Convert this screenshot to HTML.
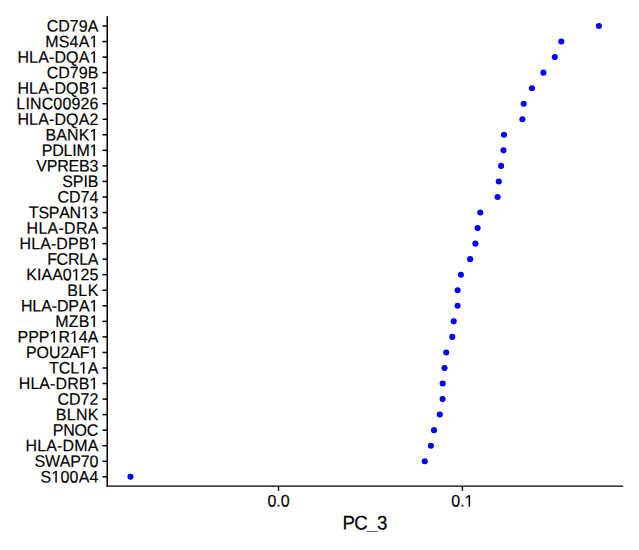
<!DOCTYPE html>
<html><head><meta charset="utf-8"><style>
html,body{margin:0;padding:0;background:#fff;width:639px;height:550px;overflow:hidden}
svg{display:block}
text{font-family:"Liberation Sans",sans-serif;font-size:16px;fill:#000;font-kerning:none;stroke:#000;stroke-width:0.15}
.tr{stroke:transparent;fill:transparent}
line{stroke:#000;stroke-width:1.5}
</style></head><body>
<svg width="639" height="550" viewBox="0 0 639 550">
<rect width="639" height="550" fill="#fff"/>
<line x1="107.25" y1="16.9" x2="107.25" y2="486.1" stroke-linecap="square"/>
<line x1="107.25" y1="486.1" x2="622.5" y2="486.1" stroke-linecap="square" style="stroke-width:1.35"/>
<g transform="translate(98.40,31.65) matrix(1,0.001,0,1.041,0,0)"><text id="t0" x="0" y="0" text-anchor="end" textLength="51.78" lengthAdjust="spacing">CD79A</text></g>
<line x1="102.5" y1="26.00" x2="107.25" y2="26.00"/>
<circle cx="598.9" cy="26.00" r="3.05" fill="#0000ff"/>
<g transform="translate(98.40,47.19) matrix(1,0.001,0,1.041,0,0)"><text id="t1" x="0" y="0" text-anchor="end" textLength="53.12" lengthAdjust="spacing">MS4A<tspan class="tr">1</tspan></text><path d="M-4.886 0.000 L-4.886 -9.664 L-7.370 -7.891 L-7.370 -9.219 L-4.769 -11.008 L-3.472 -11.008 L-3.472 0.000Z" fill="#000" stroke="#000" stroke-width="0.15" stroke-linejoin="miter"/></g>
<line x1="102.5" y1="41.54" x2="107.25" y2="41.54"/>
<circle cx="561.3" cy="41.54" r="3.05" fill="#0000ff"/>
<g transform="translate(98.40,62.74) matrix(1,0.001,0,1.041,0,0)"><text id="t2" x="0" y="0" text-anchor="end" textLength="80.97" lengthAdjust="spacing">HLA-DQA<tspan class="tr">1</tspan></text><path d="M-4.886 0.000 L-4.886 -9.664 L-7.370 -7.891 L-7.370 -9.219 L-4.769 -11.008 L-3.472 -11.008 L-3.472 0.000Z" fill="#000" stroke="#000" stroke-width="0.15" stroke-linejoin="miter"/></g>
<line x1="102.5" y1="57.09" x2="107.25" y2="57.09"/>
<circle cx="554.8" cy="57.09" r="3.05" fill="#0000ff"/>
<g transform="translate(98.40,78.28) matrix(1,0.001,0,1.041,0,0)"><text id="t3" x="0" y="0" text-anchor="end" textLength="51.78" lengthAdjust="spacing">CD79B</text></g>
<line x1="102.5" y1="72.63" x2="107.25" y2="72.63"/>
<circle cx="543.4" cy="72.63" r="3.05" fill="#0000ff"/>
<g transform="translate(98.40,93.83) matrix(1,0.001,0,1.041,0,0)"><text id="t4" x="0" y="0" text-anchor="end" textLength="80.97" lengthAdjust="spacing">HLA-DQB<tspan class="tr">1</tspan></text><path d="M-4.886 0.000 L-4.886 -9.664 L-7.370 -7.891 L-7.370 -9.219 L-4.769 -11.008 L-3.472 -11.008 L-3.472 0.000Z" fill="#000" stroke="#000" stroke-width="0.15" stroke-linejoin="miter"/></g>
<line x1="102.5" y1="88.18" x2="107.25" y2="88.18"/>
<circle cx="531.9" cy="88.18" r="3.05" fill="#0000ff"/>
<g transform="translate(98.40,109.37) matrix(1,0.001,0,1.041,0,0)"><text id="t5" x="0" y="0" text-anchor="end" textLength="82.05" lengthAdjust="spacing">LINC00926</text></g>
<line x1="102.5" y1="103.72" x2="107.25" y2="103.72"/>
<circle cx="523.7" cy="103.72" r="3.05" fill="#0000ff"/>
<g transform="translate(98.40,124.92) matrix(1,0.001,0,1.041,0,0)"><text id="t6" x="0" y="0" text-anchor="end" textLength="80.97" lengthAdjust="spacing">HLA-DQA2</text></g>
<line x1="102.5" y1="119.27" x2="107.25" y2="119.27"/>
<circle cx="522.4" cy="119.27" r="3.05" fill="#0000ff"/>
<g transform="translate(98.40,140.46) matrix(1,0.001,0,1.041,0,0)"><text id="t7" x="0" y="0" text-anchor="end" textLength="53.02" lengthAdjust="spacing">BANK<tspan class="tr">1</tspan></text><path d="M-4.886 0.000 L-4.886 -9.664 L-7.370 -7.891 L-7.370 -9.219 L-4.769 -11.008 L-3.472 -11.008 L-3.472 0.000Z" fill="#000" stroke="#000" stroke-width="0.15" stroke-linejoin="miter"/></g>
<line x1="102.5" y1="134.81" x2="107.25" y2="134.81"/>
<circle cx="504.0" cy="134.81" r="3.05" fill="#0000ff"/>
<g transform="translate(98.40,156.01) matrix(1,0.001,0,1.041,0,0)"><text id="t8" x="0" y="0" text-anchor="end" textLength="56.60" lengthAdjust="spacing">PDLIM<tspan class="tr">1</tspan></text><path d="M-4.886 0.000 L-4.886 -9.664 L-7.370 -7.891 L-7.370 -9.219 L-4.769 -11.008 L-3.472 -11.008 L-3.472 0.000Z" fill="#000" stroke="#000" stroke-width="0.15" stroke-linejoin="miter"/></g>
<line x1="102.5" y1="150.36" x2="107.25" y2="150.36"/>
<circle cx="503.5" cy="150.36" r="3.05" fill="#0000ff"/>
<g transform="translate(98.40,171.55) matrix(1,0.001,0,1.041,0,0)"><text id="t9" x="0" y="0" text-anchor="end" textLength="62.19" lengthAdjust="spacing">VPREB3</text></g>
<line x1="102.5" y1="165.90" x2="107.25" y2="165.90"/>
<circle cx="501.1" cy="165.90" r="3.05" fill="#0000ff"/>
<g transform="translate(98.40,187.10) matrix(1,0.001,0,1.041,0,0)"><text id="t10" x="0" y="0" text-anchor="end" textLength="36.16" lengthAdjust="spacing">SPIB</text></g>
<line x1="102.5" y1="181.45" x2="107.25" y2="181.45"/>
<circle cx="498.8" cy="181.45" r="3.05" fill="#0000ff"/>
<g transform="translate(98.40,202.64) matrix(1,0.001,0,1.041,0,0)"><text id="t11" x="0" y="0" text-anchor="end" textLength="40.91" lengthAdjust="spacing">CD74</text></g>
<line x1="102.5" y1="196.99" x2="107.25" y2="196.99"/>
<circle cx="497.6" cy="196.99" r="3.05" fill="#0000ff"/>
<g transform="translate(98.40,218.19) matrix(1,0.001,0,1.041,0,0)"><text id="t12" x="0" y="0" text-anchor="end" textLength="69.54" lengthAdjust="spacing">TSPAN<tspan class="tr">1</tspan>3</text><path d="M-13.516 0.000 L-13.516 -9.664 L-16.001 -7.891 L-16.001 -9.219 L-13.399 -11.008 L-12.102 -11.008 L-12.102 0.000Z" fill="#000" stroke="#000" stroke-width="0.15" stroke-linejoin="miter"/></g>
<line x1="102.5" y1="212.54" x2="107.25" y2="212.54"/>
<circle cx="480.3" cy="212.54" r="3.05" fill="#0000ff"/>
<g transform="translate(98.40,233.73) matrix(1,0.001,0,1.041,0,0)"><text id="t13" x="0" y="0" text-anchor="end" textLength="71.83" lengthAdjust="spacing">HLA-DRA</text></g>
<line x1="102.5" y1="228.08" x2="107.25" y2="228.08"/>
<circle cx="477.6" cy="228.08" r="3.05" fill="#0000ff"/>
<g transform="translate(98.40,249.28) matrix(1,0.001,0,1.041,0,0)"><text id="t14" x="0" y="0" text-anchor="end" textLength="78.90" lengthAdjust="spacing">HLA-DPB<tspan class="tr">1</tspan></text><path d="M-4.886 0.000 L-4.886 -9.664 L-7.370 -7.891 L-7.370 -9.219 L-4.769 -11.008 L-3.472 -11.008 L-3.472 0.000Z" fill="#000" stroke="#000" stroke-width="0.15" stroke-linejoin="miter"/></g>
<line x1="102.5" y1="243.63" x2="107.25" y2="243.63"/>
<circle cx="475.4" cy="243.63" r="3.05" fill="#0000ff"/>
<g transform="translate(98.40,264.82) matrix(1,0.001,0,1.041,0,0)"><text id="t15" x="0" y="0" text-anchor="end" textLength="51.25" lengthAdjust="spacing">FCRLA</text></g>
<line x1="102.5" y1="259.17" x2="107.25" y2="259.17"/>
<circle cx="470.1" cy="259.17" r="3.05" fill="#0000ff"/>
<g transform="translate(98.40,280.37) matrix(1,0.001,0,1.041,0,0)"><text id="t16" x="0" y="0" text-anchor="end" textLength="72.05" lengthAdjust="spacing">KIAA0<tspan class="tr">1</tspan>25</text><path d="M-22.677 0.000 L-22.677 -9.664 L-25.161 -7.891 L-25.161 -9.219 L-22.560 -11.008 L-21.263 -11.008 L-21.263 0.000Z" fill="#000" stroke="#000" stroke-width="0.15" stroke-linejoin="miter"/></g>
<line x1="102.5" y1="274.72" x2="107.25" y2="274.72"/>
<circle cx="460.9" cy="274.72" r="3.05" fill="#0000ff"/>
<g transform="translate(98.40,295.91) matrix(1,0.001,0,1.041,0,0)"><text id="t17" x="0" y="0" text-anchor="end" textLength="31.19" lengthAdjust="spacing">BLK</text></g>
<line x1="102.5" y1="290.26" x2="107.25" y2="290.26"/>
<circle cx="457.6" cy="290.26" r="3.05" fill="#0000ff"/>
<g transform="translate(98.40,311.46) matrix(1,0.001,0,1.041,0,0)"><text id="t18" x="0" y="0" text-anchor="end" textLength="77.50" lengthAdjust="spacing">HLA-DPA<tspan class="tr">1</tspan></text><path d="M-4.886 0.000 L-4.886 -9.664 L-7.370 -7.891 L-7.370 -9.219 L-4.769 -11.008 L-3.472 -11.008 L-3.472 0.000Z" fill="#000" stroke="#000" stroke-width="0.15" stroke-linejoin="miter"/></g>
<line x1="102.5" y1="305.81" x2="107.25" y2="305.81"/>
<circle cx="457.6" cy="305.81" r="3.05" fill="#0000ff"/>
<g transform="translate(98.40,327.00) matrix(1,0.001,0,1.041,0,0)"><text id="t19" x="0" y="0" text-anchor="end" textLength="43.17" lengthAdjust="spacing">MZB<tspan class="tr">1</tspan></text><path d="M-4.886 0.000 L-4.886 -9.664 L-7.370 -7.891 L-7.370 -9.219 L-4.769 -11.008 L-3.472 -11.008 L-3.472 0.000Z" fill="#000" stroke="#000" stroke-width="0.15" stroke-linejoin="miter"/></g>
<line x1="102.5" y1="321.35" x2="107.25" y2="321.35"/>
<circle cx="453.7" cy="321.35" r="3.05" fill="#0000ff"/>
<g transform="translate(98.40,342.55) matrix(1,0.001,0,1.041,0,0)"><text id="t20" x="0" y="0" text-anchor="end" textLength="80.94" lengthAdjust="spacing">PPP<tspan class="tr">1</tspan>R<tspan class="tr">1</tspan>4A</text><path d="M-44.898 0.000 L-44.898 -9.664 L-47.383 -7.891 L-47.383 -9.219 L-44.781 -11.008 L-43.484 -11.008 L-43.484 0.000Z" fill="#000" stroke="#000" stroke-width="0.15" stroke-linejoin="miter"/><path d="M-24.456 0.000 L-24.456 -9.664 L-26.940 -7.891 L-26.940 -9.219 L-24.339 -11.008 L-23.042 -11.008 L-23.042 0.000Z" fill="#000" stroke="#000" stroke-width="0.15" stroke-linejoin="miter"/></g>
<line x1="102.5" y1="336.90" x2="107.25" y2="336.90"/>
<circle cx="452.3" cy="336.90" r="3.05" fill="#0000ff"/>
<g transform="translate(98.40,358.09) matrix(1,0.001,0,1.041,0,0)"><text id="t21" x="0" y="0" text-anchor="end" textLength="72.41" lengthAdjust="spacing">POU2AF<tspan class="tr">1</tspan></text><path d="M-4.886 0.000 L-4.886 -9.664 L-7.370 -7.891 L-7.370 -9.219 L-4.769 -11.008 L-3.472 -11.008 L-3.472 0.000Z" fill="#000" stroke="#000" stroke-width="0.15" stroke-linejoin="miter"/></g>
<line x1="102.5" y1="352.44" x2="107.25" y2="352.44"/>
<circle cx="446.2" cy="352.44" r="3.05" fill="#0000ff"/>
<g transform="translate(98.40,373.64) matrix(1,0.001,0,1.041,0,0)"><text id="t22" x="0" y="0" text-anchor="end" textLength="49.30" lengthAdjust="spacing">TCL<tspan class="tr">1</tspan>A</text><path d="M-15.435 0.000 L-15.435 -9.664 L-17.919 -7.891 L-17.919 -9.219 L-15.318 -11.008 L-14.021 -11.008 L-14.021 0.000Z" fill="#000" stroke="#000" stroke-width="0.15" stroke-linejoin="miter"/></g>
<line x1="102.5" y1="367.99" x2="107.25" y2="367.99"/>
<circle cx="444.5" cy="367.99" r="3.05" fill="#0000ff"/>
<g transform="translate(98.40,389.18) matrix(1,0.001,0,1.041,0,0)"><text id="t23" x="0" y="0" text-anchor="end" textLength="79.63" lengthAdjust="spacing">HLA-DRB<tspan class="tr">1</tspan></text><path d="M-4.886 0.000 L-4.886 -9.664 L-7.370 -7.891 L-7.370 -9.219 L-4.769 -11.008 L-3.472 -11.008 L-3.472 0.000Z" fill="#000" stroke="#000" stroke-width="0.15" stroke-linejoin="miter"/></g>
<line x1="102.5" y1="383.53" x2="107.25" y2="383.53"/>
<circle cx="442.7" cy="383.53" r="3.05" fill="#0000ff"/>
<g transform="translate(98.40,404.73) matrix(1,0.001,0,1.041,0,0)"><text id="t24" x="0" y="0" text-anchor="end" textLength="40.91" lengthAdjust="spacing">CD72</text></g>
<line x1="102.5" y1="399.08" x2="107.25" y2="399.08"/>
<circle cx="442.6" cy="399.08" r="3.05" fill="#0000ff"/>
<g transform="translate(98.40,420.27) matrix(1,0.001,0,1.041,0,0)"><text id="t25" x="0" y="0" text-anchor="end" textLength="42.55" lengthAdjust="spacing">BLNK</text></g>
<line x1="102.5" y1="414.62" x2="107.25" y2="414.62"/>
<circle cx="439.8" cy="414.62" r="3.05" fill="#0000ff"/>
<g transform="translate(98.40,435.82) matrix(1,0.001,0,1.041,0,0)"><text id="t26" x="0" y="0" text-anchor="end" textLength="45.73" lengthAdjust="spacing">PNOC</text></g>
<line x1="102.5" y1="430.17" x2="107.25" y2="430.17"/>
<circle cx="434.0" cy="430.17" r="3.05" fill="#0000ff"/>
<g transform="translate(98.40,451.36) matrix(1,0.001,0,1.041,0,0)"><text id="t27" x="0" y="0" text-anchor="end" textLength="72.96" lengthAdjust="spacing">HLA-DMA</text></g>
<line x1="102.5" y1="445.71" x2="107.25" y2="445.71"/>
<circle cx="430.9" cy="445.71" r="3.05" fill="#0000ff"/>
<g transform="translate(98.40,466.91) matrix(1,0.001,0,1.041,0,0)"><text id="t28" x="0" y="0" text-anchor="end" textLength="63.96" lengthAdjust="spacing">SWAP70</text></g>
<line x1="102.5" y1="461.26" x2="107.25" y2="461.26"/>
<circle cx="424.8" cy="461.26" r="3.05" fill="#0000ff"/>
<g transform="translate(98.40,482.45) matrix(1,0.001,0,1.041,0,0)"><text id="t29" x="0" y="0" text-anchor="end" textLength="57.89" lengthAdjust="spacing">S<tspan class="tr">1</tspan>00A4</text><path d="M-43.005 0.000 L-43.005 -9.664 L-45.489 -7.891 L-45.489 -9.219 L-42.888 -11.008 L-41.591 -11.008 L-41.591 0.000Z" fill="#000" stroke="#000" stroke-width="0.15" stroke-linejoin="miter"/></g>
<line x1="102.5" y1="476.80" x2="107.25" y2="476.80"/>
<circle cx="130.5" cy="476.80" r="3.05" fill="#0000ff"/>
<line x1="278.5" y1="486.1" x2="278.5" y2="490.7"/>
<g transform="translate(278.50,506.60) matrix(1,0.001,0,1.041,0,0)"><text id="x0" x="0" y="0" text-anchor="middle">0.0</text></g>
<line x1="462.4" y1="486.1" x2="462.4" y2="490.7"/>
<g transform="translate(462.40,506.60) matrix(1,0.001,0,1.041,0,0)"><text id="x1" x="0" y="0" text-anchor="middle">0.<tspan class="tr">1</tspan></text><path d="M6.243 0.000 L6.243 -9.664 L3.759 -7.891 L3.759 -9.219 L6.360 -11.008 L7.657 -11.008 L7.657 0.000Z" fill="#000" stroke="#000" stroke-width="0.15" stroke-linejoin="miter"/></g>
<g transform="translate(364.9,529.6) matrix(1,0.001,0,1.055,0,0)"><text x="0" y="0" text-anchor="middle" textLength="45" lengthAdjust="spacing" style="font-size:18.67px;stroke-width:0.2">PC<tspan class="tr">_</tspan>3</text></g>
<rect x="366.7" y="531" width="11.3" height="1" fill="#666"/>
</svg>
</body></html>
